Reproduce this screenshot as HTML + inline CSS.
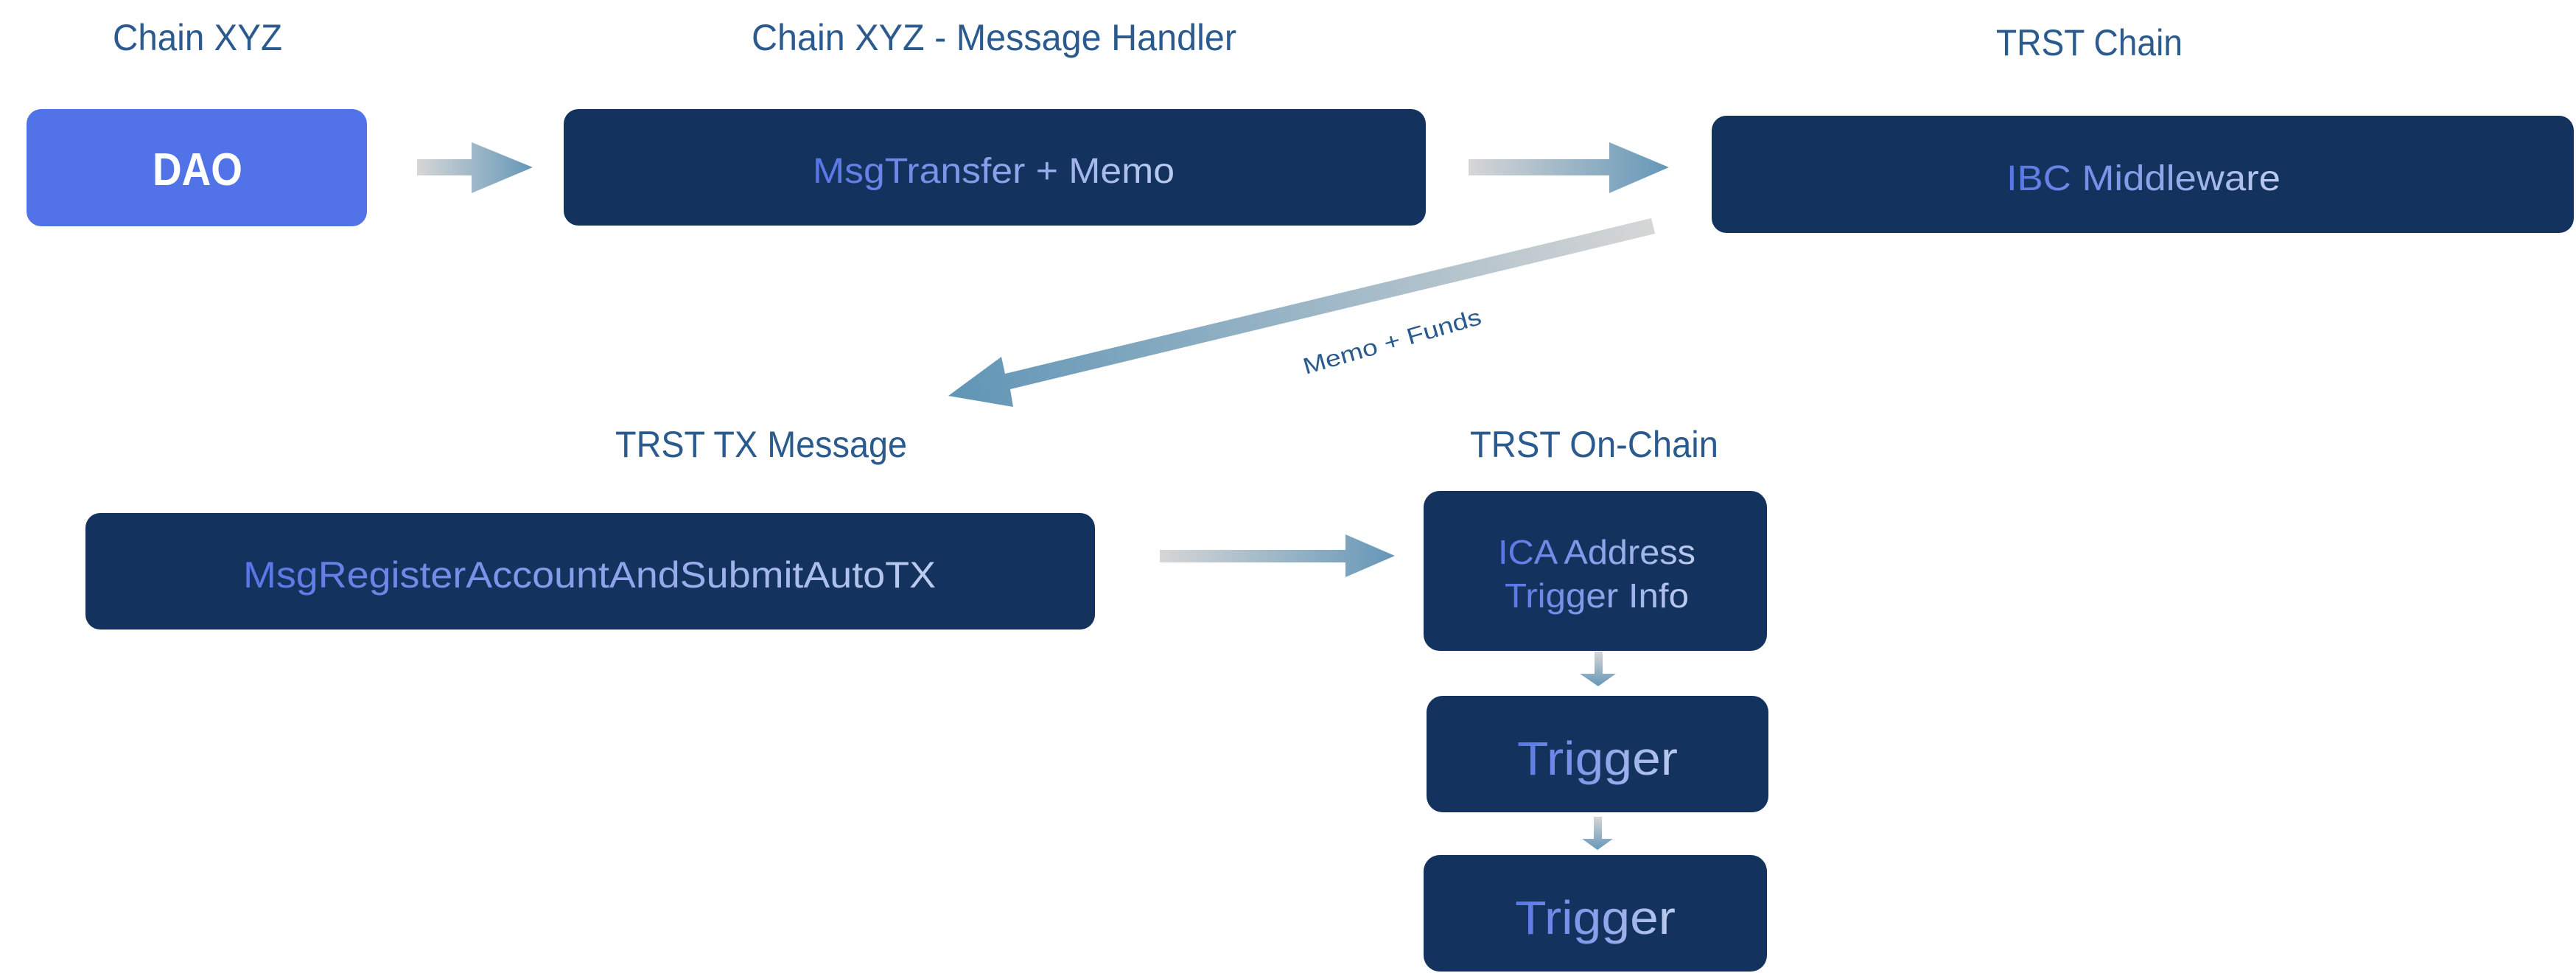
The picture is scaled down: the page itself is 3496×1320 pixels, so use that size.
<!DOCTYPE html>
<html><head><meta charset="utf-8"><style>
html,body{margin:0;padding:0;background:#fff;}
svg{display:block;}
text{font-family:"Liberation Sans",sans-serif;}
</style></head><body>
<svg width="3496" height="1320" viewBox="0 0 3496 1320" xmlns="http://www.w3.org/2000/svg">
<defs>
<linearGradient id="tg" x1="0" y1="0" x2="1" y2="0"><stop offset="0" stop-color="#5775e6"/><stop offset="1" stop-color="#bccdee"/></linearGradient>
<linearGradient id="ah" x1="0" y1="0" x2="1" y2="0"><stop offset="0" stop-color="#d6d6d6"/><stop offset="1" stop-color="#6597b8"/></linearGradient>
<linearGradient id="av" x1="0" y1="0" x2="0" y2="1"><stop offset="0" stop-color="#d6d6d6"/><stop offset="1" stop-color="#6597b8"/></linearGradient>
<linearGradient id="ad" gradientUnits="userSpaceOnUse" x1="2246" y1="306" x2="1288" y2="537"><stop offset="0" stop-color="#d6d6d6"/><stop offset="1" stop-color="#6095b6"/></linearGradient>
</defs>

<!-- titles -->
<g fill="#2a5a8e" font-size="50">
<text x="153" y="68" textLength="230" lengthAdjust="spacingAndGlyphs">Chain XYZ</text>
<text x="1020" y="68" textLength="658" lengthAdjust="spacingAndGlyphs">Chain XYZ - Message Handler</text>
<text x="2709" y="75" textLength="253" lengthAdjust="spacingAndGlyphs">TRST Chain</text>
<text x="835" y="620" textLength="396" lengthAdjust="spacingAndGlyphs">TRST TX Message</text>
<text x="1995" y="620" textLength="337" lengthAdjust="spacingAndGlyphs">TRST On-Chain</text>
</g>

<!-- boxes -->
<rect x="36" y="148" width="462" height="159" rx="20" fill="#5272e8"/>
<rect x="765" y="148" width="1170" height="158" rx="20" fill="#14325e"/>
<rect x="2323" y="157" width="1170" height="159" rx="20" fill="#14325e"/>
<rect x="116" y="696" width="1370" height="158" rx="20" fill="#14325e"/>
<rect x="1932" y="666" width="466" height="217" rx="22" fill="#14325e"/>
<rect x="1936" y="944" width="464" height="158" rx="22" fill="#14325e"/>
<rect x="1932" y="1160" width="466" height="158" rx="22" fill="#14325e"/>

<!-- box text -->
<text x="207" y="251" font-size="62" font-weight="bold" fill="#fff" textLength="122" lengthAdjust="spacingAndGlyphs">DAO</text>
<text x="1103" y="248" font-size="48" fill="url(#tg)" textLength="491" lengthAdjust="spacingAndGlyphs">MsgTransfer + Memo</text>
<text x="2723" y="258" font-size="48" fill="url(#tg)" textLength="372" lengthAdjust="spacingAndGlyphs">IBC Middleware</text>
<text x="330" y="797" font-size="50" fill="url(#tg)" textLength="940" lengthAdjust="spacingAndGlyphs">MsgRegisterAccountAndSubmitAutoTX</text>
<text x="2033" y="765" font-size="46" fill="url(#tg)" textLength="268" lengthAdjust="spacingAndGlyphs">ICA Address</text>
<text x="2042" y="824" font-size="46" fill="url(#tg)" textLength="250" lengthAdjust="spacingAndGlyphs">Trigger Info</text>
<text x="2059" y="1051" font-size="64" fill="url(#tg)" textLength="218" lengthAdjust="spacingAndGlyphs">Trigger</text>
<text x="2056" y="1267" font-size="64" fill="url(#tg)" textLength="218" lengthAdjust="spacingAndGlyphs">Trigger</text>

<!-- horizontal arrows -->
<polygon points="566,216 640,216 640,193 723,227 640,262 640,238 566,238" fill="url(#ah)"/>
<polygon points="1993,216 2184,216 2184,193 2265,227 2184,262 2184,238 1993,238" fill="url(#ah)"/>
<polygon points="1574,746 1826,746 1826,725 1893,754 1826,783 1826,763 1574,763" fill="url(#ah)"/>

<!-- vertical arrows -->
<polygon points="2164,884 2175,884 2175,914 2193,914 2169,931 2144,914 2164,914" fill="url(#av)"/>
<polygon points="2163,1108 2174,1108 2174,1138 2189,1138 2168,1153 2147,1138 2163,1138" fill="url(#av)"/>

<!-- diagonal arrow -->
<polygon points="2241,296 2246,317 1371,528 1375,552 1287,537 1359,484 1364,507" fill="url(#ad)"/>
<text x="0" y="0" font-size="31" fill="#2a5a8e" transform="translate(1772,508) rotate(-16)" textLength="250" lengthAdjust="spacingAndGlyphs">Memo + Funds</text>
</svg>
</body></html>
